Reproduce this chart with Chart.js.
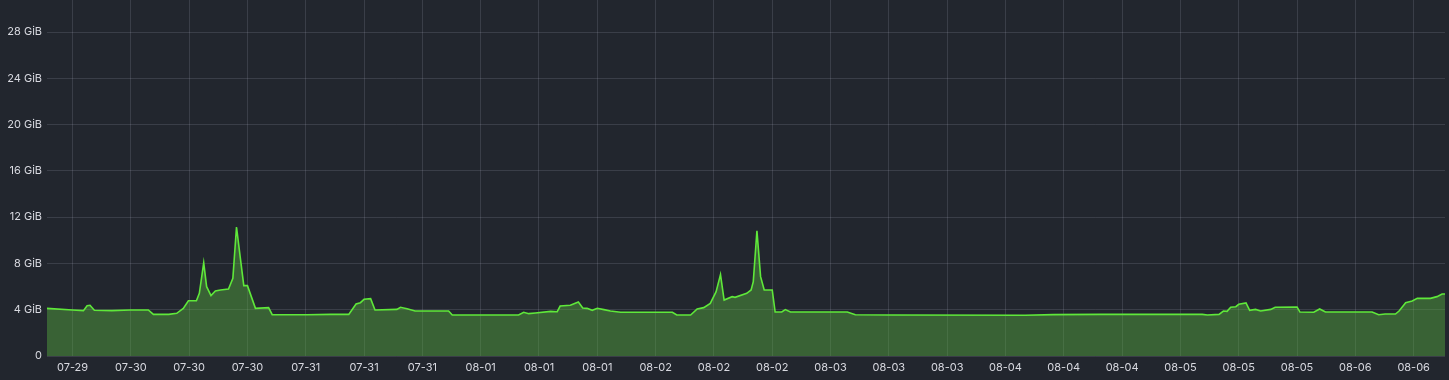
<!DOCTYPE html>
<html>
<head>
<meta charset="utf-8">
<script src="https://cdn.jsdelivr.net/npm/chart.js@4.4.1/dist/chart.umd.min.js"></script>
<style>
	html, body { margin: 0; padding: 0; background: #22262e; }
	#wrap { width: 1449px; height: 380px; }
</style>
</head>
<body>
<div id="wrap"><canvas id="chart"></canvas></div>
<script>
// hours since 07-29 00:00
const hours = [
	12.5, 16.0, 17.5, 18.0, 18.4, 19.0, 21.4, 23.9, 26.4, 27.1, 29.2, 30.3, 31.2, 31.9, 33.0, 33.4,
	34.0, 34.4, 35.0, 35.6, 36.3, 37.4, 38.0, 38.5, 39.0, 39.5, 40.0, 41.1, 42.9, 43.4, 48.2, 51.4,
	53.9, 54.9, 55.5, 56.0, 56.9, 57.5, 60.5, 61.0, 61.9, 63.0, 67.6, 68.1, 77.2, 77.9, 78.6, 79.5,
	81.6, 82.5, 82.9, 84.3, 85.4, 86.0, 86.6, 87.3, 88.0, 88.9, 89.8, 91.2, 98.3, 98.9, 100.8, 101.7,
	102.6, 103.5, 104.3, 104.9, 105.4, 106.5, 106.9, 108.5, 109.1, 109.4, 109.9, 110.4, 110.9, 112.0, 112.4, 113.3,
	113.8, 114.5, 122.3, 123.4, 128.2, 146.7, 150.6, 157.0, 171.0, 171.7, 173.3, 173.9, 174.4, 174.9, 175.6, 176.0,
	177.0, 177.5, 178.3, 179.0, 180.4, 181.0, 184.0, 184.4, 186.3, 187.1, 187.9, 194.3, 195.2, 196.1, 197.5, 198.0,
	198.9, 199.8, 200.5, 202.3, 203.2, 203.9, 204.3,
];

// memory used, GiB
const usedGiB = [
	4.12, 3.98, 3.92, 4.35, 4.38, 3.95, 3.92, 3.98, 3.98, 3.60, 3.60, 3.69, 4.12, 4.78, 4.78, 5.42,
	8.05, 5.99, 5.22, 5.62, 5.71, 5.79, 6.71, 11.15, 8.59, 6.08, 6.08, 4.12, 4.18, 3.57, 3.57, 3.60,
	3.60, 4.50, 4.61, 4.90, 4.96, 3.98, 4.03, 4.21, 4.09, 3.89, 3.89, 3.54, 3.54, 3.78, 3.66, 3.72,
	3.86, 3.83, 4.32, 4.38, 4.67, 4.15, 4.12, 3.95, 4.12, 4.01, 3.89, 3.78, 3.78, 3.54, 3.54, 4.06,
	4.18, 4.55, 5.56, 7.03, 4.84, 5.13, 5.07, 5.42, 5.71, 6.43, 10.81, 6.86, 5.71, 5.71, 3.80, 3.80,
	4.01, 3.80, 3.80, 3.57, 3.54, 3.52, 3.58, 3.60, 3.60, 3.54, 3.60, 3.89, 3.86, 4.21, 4.26, 4.47,
	4.58, 3.95, 4.03, 3.89, 4.03, 4.21, 4.24, 3.80, 3.78, 4.06, 3.80, 3.80, 3.57, 3.63, 3.63, 3.89,
	4.61, 4.75, 4.98, 4.98, 5.13, 5.36, 5.36,
];

const xTicks = [16, 24, 32, 40, 48, 56, 64, 72, 80, 88, 96, 104, 112, 120, 128, 136, 144, 152, 160, 168, 176, 184, 192, 200];
const yTicks = [0, 4, 8, 12, 16, 20, 24, 28];
const days = ["07-29", "07-30", "07-31", "08-01", "08-02", "08-03", "08-04", "08-05", "08-06"];

const textColor = "#d8d9e0";
const gridColor = "rgba(204, 204, 220, 0.15)";
const font = { family: "Inter", size: 11 };

const noPadding = (scale) => {
	scale.paddingTop = 0;
	scale.paddingBottom = 0;
	scale.paddingLeft = 0;
	scale.paddingRight = 0;
};

new Chart(document.getElementById("chart"), {
	type: "line",
	data: {
		datasets: [{
			data: hours.map((h, i) => ({ x: h, y: usedGiB[i] })),
			borderColor: "#5fe83a",
			borderWidth: 1.6,
			backgroundColor: "rgba(90, 180, 65, 0.42)",
			fill: "origin",
			pointRadius: 0,
			tension: 0,
		}],
	},
	options: {
		responsive: true,
		maintainAspectRatio: false,
		animation: false,
		layout: { padding: { left: 0, right: 4, top: 0, bottom: 0 } },
		plugins: { legend: { display: false }, tooltip: { enabled: false } },
		scales: {
			x: {
				type: "linear",
				min: 12.5,
				max: 204.3,
				afterBuildTicks: (scale) => { scale.ticks = xTicks.map((v) => ({ value: v })); },
				afterFit: (scale) => { scale.height = 24; noPadding(scale); },
				grid: { color: gridColor, drawTicks: false },
				border: { display: false },
				ticks: {
					color: textColor,
					font: font,
					padding: 5,
					maxRotation: 0,
					autoSkip: false,
					callback: (v) => days[Math.floor(v / 24)],
				},
			},
			y: {
				min: 0,
				max: 30.77,
				afterBuildTicks: (scale) => { scale.ticks = yTicks.map((v) => ({ value: v })); },
				afterFit: (scale) => { scale.width = 47; noPadding(scale); },
				grid: { color: gridColor, drawTicks: false },
				border: { display: false },
				ticks: {
					color: textColor,
					font: font,
					padding: 5,
					callback: (v) => (v === 0 ? "0" : v + " GiB"),
				},
			},
		},
	},
});
</script>
</body>
</html>
